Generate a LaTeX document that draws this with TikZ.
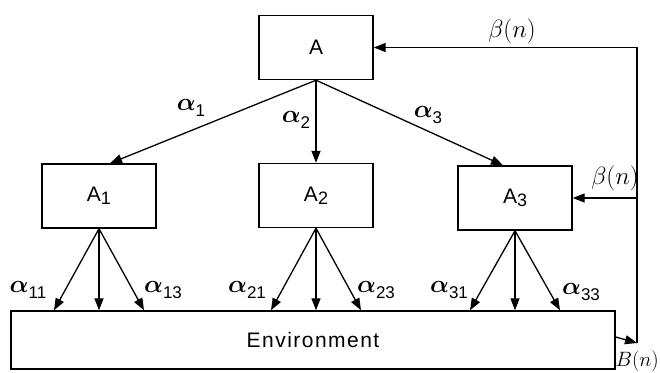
\documentclass[tikz,border=0pt]{standalone}
\usepackage{fontspec}
\usepackage{bm}
\setmainfont{Liberation Sans}
\usetikzlibrary{arrows.meta,calc}
% alpha with a lowered sans-serif index
\newcommand\alab[1]{$\bm{\alpha}$\raisebox{-0.5ex}{\fontsize{17}{17}\selectfont #1}}
% agent name with a lowered index
\newcommand\agent[1]{A\raisebox{-0.3ex}{\fontsize{18}{18}\selectfont #1}}
\begin{document}
\begin{tikzpicture}[x=1pt,y=-1pt,
  box/.style={draw,line width=1.4pt,minimum width=114pt,minimum height=64pt,
    inner sep=0pt,font=\fontsize{21}{22}\selectfont},
  flow/.style={line width=1.3pt,-{Triangle[length=12pt,width=9pt]}},
  lbl/.style={inner sep=0pt,font=\fontsize{24}{26}\selectfont},
  fbl/.style={inner sep=0pt,font=\fontsize{23}{24}\selectfont},
]
\useasboundingbox (0,0) rectangle (660,372);

% agents
\node[box] (A)  at (316,47.5) {A};
\node[box] (A1) at (99,196)   {\agent{1}};
\node[box] (A2) at (316,195.5) {\agent{2}};
\node[box] (A3) at (515,198)  {\agent{3}};
\node[box,minimum width=604pt,minimum height=58pt] (Env) at (313,340)
  {\addfontfeatures{LetterSpace=7}Environment};

% top-level decisions
\draw[flow] (A.south) -- ([xshift=11]A1.north);
\draw[flow] (A.south) -- (A2.north);
\draw[flow] (A.south) -- ([xshift=-12]A3.north);
\node[lbl] (l1) at (191,108) {\alab{1}};
\node[lbl] (l2) at (296,120) {\alab{2}};
\node[lbl] (l3) at (428,115) {\alab{3}};

% sub-level decisions onto the environment
\foreach \s in {A1,A2,A3}{
  \draw[flow] (\s.south) -- ($(\s.south|-Env.north)+(-45,0)$);
  \draw[flow] (\s.south) -- (\s.south|-Env.north);
  \draw[flow] (\s.south) -- ($(\s.south|-Env.north)+(45,0)$);
}
\node[lbl] (l11) at (28,290)  {\alab{11}};
\node[lbl] (l13) at (163,290) {\alab{13}};
\node[lbl] (l21) at (247,290) {\alab{21}};
\node[lbl] (l23) at (376,290) {\alab{23}};
\node[lbl] (l31) at (449,290) {\alab{31}};
\node[lbl] (l33) at (581,292) {\alab{33}};

% feedback from the environment
\coordinate (fb) at (637,343);
\draw[flow] ([yshift=3]Env.east) -- (fb);
\draw[flow] (fb) |- (A.east);
\draw[flow] (fb|-A3.east) -- (A3.east);
\node[fbl,font=\fontsize{25}{26}\selectfont] (b1) at (512,31) {$\beta(n)$};
\node[fbl] (b2) at (615,178) {$\beta(n)$};
\node[fbl,font=\fontsize{20.74}{22}\selectfont,anchor=east] (b3) at (659,361) {$B(n)$};
\end{tikzpicture}
\end{document}
